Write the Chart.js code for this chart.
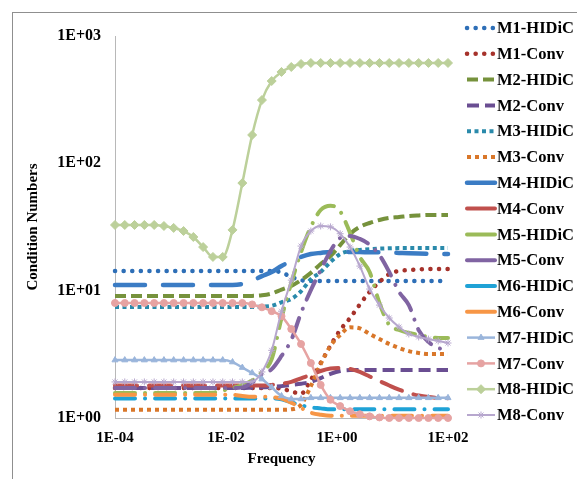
<!DOCTYPE html>
<html>
<head>
<meta charset="utf-8">
<script src="https://cdn.jsdelivr.net/npm/chart.js@4.4.1/dist/chart.umd.min.js"></script>
<style>
    html, body { margin: 0; padding: 0; background: #fff; overflow: hidden; }
    #frame { position: absolute; left: 12px; top: 12px; width: 620px; height: 520px; border: 1px solid #8f8f8f; }
    #wrap { position: absolute; left: 0; top: 0; width: 577px; height: 479px; }
</style>
</head>
<body>
<div id="frame"></div>
<div id="wrap"><canvas id="lineChart" width="577" height="479"></canvas></div>
<script>
(function () {
    const frequency = [1.00e-4, 1.50e-4, 2.25e-4, 3.38e-4, 5.08e-4, 7.62e-4, 1.14e-3, 1.72e-3, 2.58e-3, 3.87e-3,
        5.82e-3, 8.73e-3, 1.31e-2, 1.97e-2, 2.96e-2, 4.44e-2, 6.66e-2, 0.100, 0.150, 0.225,
        0.338, 0.508, 0.762, 1.14, 1.72, 2.58, 3.87, 5.82, 8.73, 13.1,
        19.7, 29.6, 44.4, 66.6, 100];

    const seriesNames = ["M1-HIDiC", "M1-Conv", "M2-HIDiC", "M2-Conv", "M3-HIDiC", "M3-Conv", "M4-HIDiC", "M4-Conv",
        "M5-HIDiC", "M5-Conv", "M6-HIDiC", "M6-Conv", "M7-HIDiC", "M7-Conv", "M8-HIDiC", "M8-Conv"];

    const m1Hidic = [14.3, 14.3, 14.3, 14.3, 14.3, 14.3, 14.3, 14.3, 14.3, 14.3, 14.3, 14.3, 14.3, 14.3, 14.3, 14.3, 14.3,
        13.9, 12.8, 12.1, 11.9, 11.9, 11.9, 11.9, 11.9, 11.9, 11.9, 11.9, 11.9, 11.9, 11.9, 11.9, 11.9, 11.9, 11.9];
    const m1Conv = [1.72, 1.72, 1.72, 1.72, 1.72, 1.72, 1.72, 1.72, 1.72, 1.72, 1.72, 1.72, 1.72, 1.72, 1.72, 1.72, 1.72,
        1.70, 1.62, 1.55, 2.0, 2.7, 3.7, 4.9, 6.1, 7.8, 9.8, 11.7, 13.5, 14.3, 14.5, 14.7, 14.8, 14.8, 14.8];
    const m2Hidic = [9.08, 9.08, 9.08, 9.08, 9.08, 9.08, 9.08, 9.08, 9.08, 9.08, 9.08, 9.08, 9.08, 9.08,
        9.1, 9.2, 9.5, 10.2, 10.9, 12.1, 13.8, 16.2, 18.7, 22.8, 27.9, 31.7, 34.0, 35.9, 37.3, 37.9, 38.6, 39.0, 39.3, 39.3, 39.3];
    const m2Conv = [1.72, 1.72, 1.72, 1.72, 1.72, 1.72, 1.72, 1.72, 1.72, 1.72, 1.72, 1.72, 1.72, 1.72,
        1.73, 1.74, 1.75, 1.78, 1.82, 1.86, 1.92, 2.06, 2.22, 2.34, 2.38, 2.38, 2.38, 2.38, 2.38, 2.38, 2.38, 2.38, 2.38, 2.38, 2.38];
    const m3Hidic = [7.44, 7.44, 7.44, 7.44, 7.44, 7.44, 7.44, 7.44, 7.44, 7.44, 7.44, 7.44, 7.44, 7.44, 7.44,
        7.5, 7.6, 8.1, 8.6, 9.9, 12.3, 14.0, 16.8, 19.4, 20.5, 20.9, 21.2, 21.4, 21.5, 21.6, 21.6, 21.6, 21.6, 21.6, 21.6];
    const m3Conv = [1.16, 1.16, 1.16, 1.16, 1.16, 1.16, 1.16, 1.16, 1.16, 1.16, 1.16, 1.16, 1.16, 1.16, 1.16, 1.16, 1.16, 1.16,
        1.17, 1.27, 1.78, 2.65, 3.68, 4.49, 5.15, 5.05, 4.57, 4.17, 3.81, 3.55, 3.35, 3.24, 3.18, 3.18, 3.18];
    const m4Hidic = [11.1, 11.1, 11.1, 11.1, 11.1, 11.1, 11.1, 11.1, 11.1, 11.1, 11.1, 11.1, 11.1,
        11.3, 12.0, 13.0, 14.0, 15.6, 17.1, 18.4, 19.4, 19.8, 20.1, 20.1, 20.1, 20.1, 20.0, 20.0, 19.9, 19.8, 19.7, 19.6, 19.5, 19.4, 19.4];
    const m4Conv = [1.80, 1.80, 1.80, 1.80, 1.80, 1.80, 1.80, 1.80, 1.80, 1.80, 1.80, 1.80, 1.80, 1.80, 1.80, 1.80,
        1.82, 1.86, 1.92, 2.05, 2.18, 2.34, 2.45, 2.47, 2.43, 2.30, 2.12, 1.95, 1.80, 1.67, 1.57, 1.50, 1.46, 1.44, 1.43];
    const m5Hidic = [1.57, 1.57, 1.57, 1.57, 1.57, 1.57, 1.57, 1.57, 1.57, 1.57,
        1.58, 1.64, 1.72, 1.82, 1.97, 2.3, 2.9, 6.1, 11.5, 20.1, 31.7, 43.0, 46.5, 42.0, 28.4, 18.4, 14.0, 8.0, 5.37, 4.91, 4.65, 4.49, 4.33, 4.25, 4.25];
    const m5Conv = [1.72, 1.72, 1.72, 1.72, 1.72, 1.72, 1.72, 1.72, 1.72, 1.72, 1.72, 1.72, 1.72,
        1.74, 1.90, 2.2, 2.42, 3.07, 4.1, 6.68, 10.1, 14.5, 20.5, 25.9, 26.9, 25.5, 23.0, 19.0, 14.0, 9.8, 7.7, 4.9, 3.96, 3.55, 3.42];
    const m6Hidic = [1.42, 1.42, 1.42, 1.42, 1.42, 1.42, 1.42, 1.42, 1.42, 1.42, 1.42, 1.42, 1.42, 1.42, 1.42, 1.42,
        1.43, 1.40, 1.33, 1.26, 1.21, 1.19, 1.17, 1.17, 1.17, 1.17, 1.17, 1.17, 1.17, 1.17, 1.17, 1.17, 1.17, 1.17, 1.17];
    const m6Conv = [1.52, 1.52, 1.52, 1.52, 1.52, 1.52, 1.52, 1.52, 1.52, 1.52, 1.52, 1.52, 1.52,
        1.49, 1.47, 1.47, 1.46, 1.42, 1.32, 1.20, 1.10, 1.06, 1.04, 1.04, 1.04, 1.04, 1.04, 1.04, 1.04, 1.04, 1.04, 1.04, 1.04, 1.04, 1.04];
    const m7Hidic = [2.85, 2.85, 2.85, 2.85, 2.85, 2.85, 2.85, 2.85, 2.85, 2.85, 2.85, 2.85,
        2.75, 2.49, 2.26, 2.02, 1.74, 1.49, 1.41, 1.41, 1.44, 1.44, 1.44, 1.44, 1.44, 1.44, 1.44, 1.44, 1.44, 1.44, 1.44, 1.44, 1.44, 1.44, 1.44];
    const m7Conv = [8.0, 8.0, 8.0, 8.0, 8.0, 8.0, 8.0, 8.0, 8.0, 8.0, 8.0, 8.0, 8.0, 8.0,
        7.8, 7.4, 6.9, 6.3, 5.0, 3.81, 2.70, 1.82, 1.39, 1.24, 1.13, 1.07, 1.03, 1.01, 1.0, 1.0, 1.0, 1.0, 1.0, 1.0, 1.0];
    const m8Hidic = [32.8, 32.8, 32.8, 32.8, 32.8, 32.2, 31.1, 29.4, 26.4, 22.0, 18.4, 18.4, 30, 70, 167, 314, 443, 522, 571, 603,
        614, 614, 614, 614, 614, 614, 614, 614, 614, 614, 614, 614, 614, 614, 614];
    const m8Conv = [1.92, 1.92, 1.92, 1.92, 1.92, 1.92, 1.92, 1.92, 1.92, 1.92, 1.92, 1.92, 1.92,
        1.92, 1.93, 2.3, 3.4, 6.9, 12.1, 22.4, 29.4, 32.2, 31.7, 28.0, 22.0, 15.6, 10.3, 7.7, 6.1, 5.18, 4.57, 4.33, 4.17, 4.03, 3.88];

    const yTickValues = [1, 10, 100, 1000];
    const yTickLabels = ["1E+00", "1E+01", "1E+02", "1E+03"];
    const xTickValues = [1e-4, 1e-2, 1, 100];
    const xTickLabels = ["1E-04", "1E-02", "1E+00", "1E+02"];

    const seriesValues = [m1Hidic, m1Conv, m2Hidic, m2Conv, m3Hidic, m3Conv, m4Hidic, m4Conv,
        m5Hidic, m5Conv, m6Hidic, m6Conv, m7Hidic, m7Conv, m8Hidic, m8Conv];

    // line looks, one per series
    const dashDot = [20, 10, 0.1, 10];
    const styles = [
        { color: '#2E6FB7', width: 4.5, dash: [0.1, 8.5], cap: 'round' },
        { color: '#A6322B', width: 4.5, dash: [0.1, 8.5], cap: 'round' },
        { color: '#76923C', width: 4, dash: [11, 5], cap: 'butt' },
        { color: '#6A4E92', width: 4, dash: [12, 6], cap: 'butt' },
        { color: '#2A8AAB', width: 4, dash: [4, 3.5], cap: 'butt' },
        { color: '#D9772A', width: 4, dash: [4, 4], cap: 'butt' },
        { color: '#3B7CC4', width: 4.5, dash: [30, 18], cap: 'round' },
        { color: '#C0504D', width: 4, dash: [22, 12], cap: 'round' },
        { color: '#9BBB59', width: 4, dash: dashDot, cap: 'round' },
        { color: '#8064A2', width: 4, dash: dashDot, cap: 'round' },
        { color: '#1FA2D6', width: 4, dash: dashDot, cap: 'round' },
        { color: '#F79646', width: 4, dash: dashDot, cap: 'round' },
        { color: '#9AB5DB', width: 2.5, dash: [], cap: 'butt', point: 'triangle', r: 3.5 },
        { color: '#E6A3A2', width: 2.5, dash: [], cap: 'butt', point: 'circle', r: 3.5 },
        { color: '#BCD09A', width: 2.5, dash: [], cap: 'butt', point: 'rectRot', r: 4.5 },
        { color: '#B7A7CE', width: 2, dash: [], cap: 'butt', point: 'star', r: 3.5 }
    ];

    const datasets = seriesNames.map((name, i) => {
        const s = styles[i];
        return {
            label: name,
            data: seriesValues[i].map((v, k) => ({ x: frequency[k], y: v })),
            borderColor: s.color,
            backgroundColor: s.color,
            borderWidth: s.width,
            borderDash: s.dash,
            borderCapStyle: s.cap,
            pointStyle: s.point || 'circle',
            pointRadius: s.r || 0,
            pointHoverRadius: s.r || 0,
            pointBorderWidth: 1,
            cubicInterpolationMode: 'monotone',
            order: seriesNames.length - i,
            clip: 6
        };
    });

    const serif = '"Liberation Serif", "Times New Roman", serif';

    const sideLegend = {
        id: 'sideLegend',
        afterDraw(chart) {
            const ctx = chart.ctx;
            const x0 = chart.chartArea.right + 19;
            ctx.save();
            chart.data.datasets.forEach((ds, i) => {
                const y = 28 + i * 25.8;
                ctx.beginPath();
                ctx.setLineDash(ds.borderDash[0] >= 18 ? [] : ds.borderDash);
                ctx.lineCap = ds.borderCapStyle;
                ctx.lineWidth = ds.borderWidth;
                ctx.strokeStyle = ds.borderColor;
                ctx.moveTo(x0, y);
                ctx.lineTo(x0 + 28, y);
                ctx.stroke();
                if (ds.pointRadius) {
                    ctx.setLineDash([]);
                    ctx.fillStyle = ds.borderColor;
                    ctx.lineWidth = 1;
                    Chart.helpers.drawPoint(ctx, { pointStyle: ds.pointStyle, radius: ds.pointRadius, borderWidth: 1, rotation: 0 }, x0 + 14, y);
                }
                ctx.fillStyle = '#000';
                ctx.font = 'bold 16.5px ' + serif;
                ctx.textBaseline = 'middle';
                ctx.textAlign = 'left';
                ctx.fillText(ds.label, x0 + 30, y + 1);
            });
            ctx.restore();
        }
    };

    const myChart = new Chart(document.getElementById('lineChart'), {
        type: 'line',
        data: { datasets: datasets },
        plugins: [sideLegend],
        options: {
            responsive: false,
            animation: false,
            devicePixelRatio: 1,
            layout: { padding: { left: 24, right: 129, top: 36, bottom: 11 } },
            scales: {
                x: {
                    type: 'logarithmic',
                    min: 1e-4,
                    max: 100,
                    grid: { display: false, drawTicks: false },
                    border: { display: true, color: '#b8b8b8', width: 1 },
                    afterBuildTicks: scale => { scale.ticks = xTickValues.map(v => ({ value: v })); },
                    afterFit: scale => { scale.height = 50; },
                    ticks: {
                        color: '#000',
                        font: { family: serif, size: 15, weight: 'bold' },
                        padding: 11,
                        maxRotation: 0,
                        autoSkip: false,
                        callback: (v, i) => xTickLabels[i]
                    },
                    title: {
                        display: true,
                        text: 'Frequency',
                        color: '#000',
                        font: { family: serif, size: 15, weight: 'bold' },
                        padding: 0
                    }
                },
                y: {
                    type: 'logarithmic',
                    min: 1,
                    max: 1000,
                    grid: { display: false, drawTicks: false },
                    border: { display: true, color: '#b8b8b8', width: 1 },
                    afterBuildTicks: scale => { scale.ticks = yTickValues.map(v => ({ value: v })); },
                    afterFit: scale => { scale.width = 91; },
                    ticks: {
                        color: '#000',
                        font: { family: serif, size: 16, weight: 'bold' },
                        padding: 14,
                        autoSkip: false,
                        callback: (v, i) => yTickLabels[i]
                    },
                    title: {
                        display: true,
                        text: 'Condition Numbers',
                        color: '#000',
                        font: { family: serif, size: 15, weight: 'bold' },
                        padding: 0
                    }
                }
            },
            plugins: {
                legend: { display: false },
                tooltip: { enabled: false }
            }
        }
    });
})();
</script>
</body>
</html>
